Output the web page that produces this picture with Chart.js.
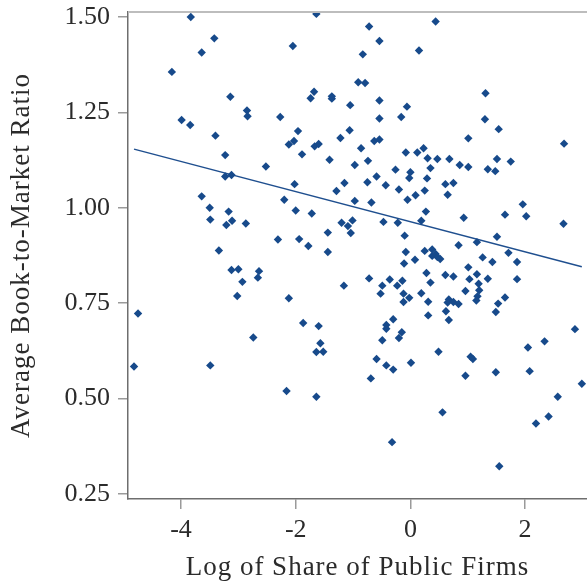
<!DOCTYPE html>
<html>
<head>
<meta charset="utf-8">
<script src="https://cdn.jsdelivr.net/npm/chart.js@4.4.1/dist/chart.umd.min.js"></script>
<style>
  html, body { margin: 0; padding: 0; background: #fff; }
  #box { width: 587px; height: 582px; }
</style>
</head>
<body>
<div id="box"><canvas id="myChart"></canvas></div>
<script>
  // log share of public firms
  var xValues = [
    -3.83, -1.64, -3.42, -3.64, -2.05, -0.83, -4.16, -0.91, -0.79, -3.14,
    -1.68, -1.74, -1.37, -1.37, -1.05, -2.85, -2.84, -2.27, -3.99, -3.84,
    -1.96, -1.06, -0.72, 0.44, -0.54, 0.15, 1.31, -0.54, -0.06, -0.54,
    -0.16, 1.30, 1.54, -3.40, -2.12, -2.03, -3.23, -2.52, -3.23, -3.12,
    -3.64, -3.50, -3.49, -3.17, -3.21, -3.11, -2.87, -2.20, -2.00, -2.02,
    -2.31, -1.94, -1.89, -1.67, -1.60, -1.22, -1.41, -0.97, -0.86, -1.15,
    -1.29, -0.97, -1.20, -1.09, -1.01, -1.04, -1.44, -1.72, -1.78, -0.63,
    -0.54, 1.01, 2.68, -0.74, -0.08, 0.12, 0.23, 0.30, 0.47, 0.68,
    0.86, 1.01, 1.51, 1.75, 1.35, 1.48, -0.26, 0.00, -0.02, 0.35,
    0.29, -0.59, -0.75, -0.43, -0.20, 0.25, 0.61, 0.75, 0.65, 0.09,
    -0.05, -0.68, 0.27, 0.19, -0.22, -0.47, 0.93, 1.65, 1.96, 2.02,
    2.67, -0.10, 1.51, 0.84, 1.16, -1.44, -3.34, -0.08, 0.25, 0.38,
    0.38, 0.44, 0.47, 0.52, -0.11, 0.08, 1.26, 1.43, 1.71, 1.86,
    -3.12, -3.00, -2.64, -2.66, -2.93, -3.02, -2.12, -1.16, -0.72, -0.49,
    -0.52, -0.36, -0.23, -0.14, -0.12, -0.02, -0.12, 0.19, 0.31, 0.31,
    0.28, 0.35, 0.61, 0.75, 0.67, 0.65, 0.75, 0.84, 0.62, 0.67,
    1.01, 1.16, 1.03, 1.19, 1.35, 0.96, 1.20, 1.17, 1.15, 1.65,
    1.53, 1.49, 1.86, -0.30, -0.42, -0.42, -0.15, -0.20, -0.49, -0.59,
    -0.42, -0.30, 0.01, 0.49, 1.05, 1.09, 2.87, 2.34, 2.05, 2.08,
    1.49, 0.96, -0.69, -0.32, 0.56, 1.55, 2.19, 2.41, 2.57, 2.99,
    -4.75, -1.87, -1.60, -2.74, -1.57, -1.64, -1.52, -4.82, -3.49, -2.16,
    -1.64
  ];
  // average book-to-market ratio
  var yValues = [
    1.500, 1.508, 1.444, 1.407, 1.424, 1.402, 1.356, 1.329, 1.327, 1.291,
    1.304, 1.287, 1.292, 1.286, 1.269, 1.255, 1.240, 1.238, 1.230, 1.217,
    1.201, 1.203, 1.475, 1.488, 1.437, 1.412, 1.300, 1.281, 1.265, 1.234,
    1.238, 1.232, 1.206, 1.189, 1.166, 1.175, 1.138, 1.108, 1.082, 1.086,
    1.030, 1.000, 0.969, 0.990, 0.955, 0.966, 0.959, 1.021, 0.993, 1.062,
    0.917, 0.918, 1.140, 1.161, 1.167, 1.183, 1.126, 1.112, 1.156, 1.065,
    1.044, 1.018, 0.961, 0.952, 0.967, 0.934, 0.935, 0.985, 0.900, 1.175,
    1.179, 1.182, 1.168, 1.123, 1.145, 1.145, 1.156, 1.130, 1.128, 1.128,
    1.112, 1.107, 1.128, 1.121, 1.101, 1.096, 1.100, 1.093, 1.078, 1.104,
    1.077, 1.082, 1.067, 1.059, 1.048, 1.045, 1.062, 1.065, 1.034, 1.033,
    1.021, 1.014, 0.990, 0.966, 0.961, 0.963, 0.974, 0.982, 1.009, 0.978,
    0.958, 0.927, 0.924, 0.902, 0.910, 0.884, 0.888, 0.884, 0.887, 0.891,
    0.874, 0.879, 0.871, 0.866, 0.854, 0.864, 0.870, 0.858, 0.882, 0.858,
    0.837, 0.839, 0.834, 0.817, 0.806, 0.769, 0.763, 0.796, 0.815, 0.796,
    0.775, 0.812, 0.796, 0.809, 0.775, 0.764, 0.753, 0.776, 0.754, 0.718,
    0.829, 0.804, 0.824, 0.820, 0.760, 0.752, 0.753, 0.748, 0.729, 0.706,
    0.844, 0.826, 0.813, 0.801, 0.814, 0.782, 0.784, 0.768, 0.757, 0.765,
    0.749, 0.727, 0.813, 0.708, 0.693, 0.683, 0.674, 0.659, 0.653, 0.604,
    0.587, 0.576, 0.594, 0.623, 0.610, 0.604, 0.682, 0.650, 0.634, 0.572,
    0.569, 0.560, 0.553, 0.386, 0.464, 0.323, 0.435, 0.453, 0.505, 0.539,
    0.723, 0.698, 0.690, 0.660, 0.645, 0.622, 0.623, 0.584, 0.587, 0.520,
    0.505
  ];
  var xTicks = [-4, -2, 0, 2];
  var yTicks = [0.25, 0.50, 0.75, 1.00, 1.25, 1.50];
  // fitted line
  var fitSlope = -0.0395;
  var fitIntercept = 0.9635;

  var blue = "#174a8b";
  var serif = "'Liberation Serif', 'DejaVu Serif', serif";

  var points = xValues.map(function (x, i) { return { x: x, y: yValues[i] }; });
  var xMin = Math.min.apply(null, xValues);
  var xMax = Math.max.apply(null, xValues);
  var fitLine = [
    { x: xMin, y: fitIntercept + fitSlope * xMin },
    { x: xMax, y: fitIntercept + fitSlope * xMax }
  ];

  // axis titles are set a bit wider, like the original typeface
  var drawTitle = Chart.Scale.prototype.drawTitle;
  Chart.Scale.prototype.drawTitle = function () {
    this.ctx.save();
    this.ctx.letterSpacing = "1px";
    drawTitle.apply(this, arguments);
    this.ctx.restore();
  };

  // light frame line along the top of the plot
  var topFrame = {
    id: "topFrame",
    afterDraw: function (chart) {
      var a = chart.chartArea, ctx = chart.ctx;
      ctx.save();
      ctx.strokeStyle = "#bdbdbd";
      ctx.lineWidth = 2;
      ctx.beginPath();
      ctx.moveTo(a.left, a.top);
      ctx.lineTo(a.right, a.top);
      ctx.stroke();
      ctx.restore();
    }
  };

  function noPad(s) {
    s.paddingTop = 0; s.paddingBottom = 0;
    s.paddingLeft = 0; s.paddingRight = 0;
  }

  new Chart("myChart", {
    type: "scatter",
    data: {
      datasets: [{
        data: points,
        pointStyle: "rectRot",
        pointRadius: 4.2,
        pointBorderWidth: 0,
        backgroundColor: blue,
        borderColor: blue
      }, {
        type: "line",
        data: fitLine,
        borderColor: "#1f4f8f",
        borderWidth: 1.4,
        pointRadius: 0,
        fill: false
      }]
    },
    options: {
      responsive: true,
      maintainAspectRatio: false,
      animation: false,
      layout: { autoPadding: false, padding: { top: 12, right: 0, left: 0, bottom: 0 } },
      plugins: { legend: { display: false }, tooltip: { enabled: false } },
      scales: {
        x: {
          type: "linear",
          min: -4.925,
          max: 3.08,
          afterBuildTicks: function (s) { s.ticks = xTicks.map(function (v) { return { value: v }; }); },
          afterFit: function (s) { s.height = 83; noPad(s); },
          grid: { drawOnChartArea: false, tickLength: 10, color: "#9a9a9a", lineWidth: 1.5 },
          border: { color: "#6e6e6e", width: 1.5 },
          ticks: {
            padding: 6,
            color: "#2b2b2b",
            font: { family: serif, size: 26 },
            callback: function (v) { return String(v); }
          },
          title: {
            display: true,
            text: "Log of Share of Public Firms",
            color: "#2b2b2b",
            font: { family: serif, size: 27 },
            padding: { top: 0, bottom: -2 }
          }
        },
        y: {
          type: "linear",
          min: 0.237,
          max: 1.513,
          afterBuildTicks: function (s) { s.ticks = yTicks.map(function (v) { return { value: v }; }); },
          afterFit: function (s) { s.width = 128; noPad(s); },
          grid: { drawOnChartArea: false, tickLength: 10, color: "#9a9a9a", lineWidth: 1.5 },
          border: { color: "#6e6e6e", width: 1.5 },
          ticks: {
            padding: 8,
            color: "#2b2b2b",
            font: { family: serif, size: 26 },
            callback: function (v) { return v.toFixed(2); }
          },
          title: {
            display: true,
            text: "Average Book-to-Market Ratio",
            color: "#2b2b2b",
            font: { family: serif, size: 27 },
            padding: { top: 6, bottom: 0 }
          }
        }
      }
    },
    plugins: [topFrame]
  });
</script>
</body>
</html>
